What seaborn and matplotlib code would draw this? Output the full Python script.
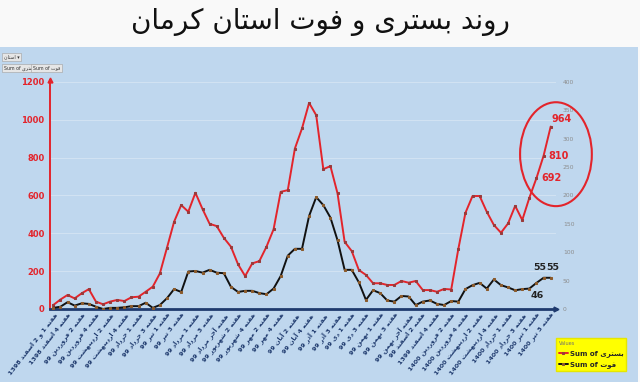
import numpy as np
import pandas as pd
import matplotlib
matplotlib.use("Agg")
import matplotlib.pyplot as plt
import seaborn as sns
from matplotlib.patches import Rectangle, Ellipse

# ---------------- data ----------------
title = "روند بستری و فوت استان کرمان"
series_hosp_name = "بستری"
series_death_name = "فوت"

hosp = [21, 50, 74, 56, 83, 105, 39, 25, 39, 48, 42, 62, 65, 91, 118, 188, 324, 461, 549, 514,
        614, 528, 450, 438, 376, 329, 236, 174, 241, 253, 329, 421, 619, 628, 848, 954, 1089, 1024,
        739, 755, 611, 355, 306, 206, 180, 136, 136, 127, 127, 148, 139, 148, 100, 100, 91, 106,
        103, 317, 508, 597, 597, 514, 444, 403, 452, 545, 470, 588, 692, 810, 964]

deaths = [2, 4, 12, 6, 10, 9, 4, 0, 2, 2, 3, 5, 5, 11, 2, 7, 19, 35, 30, 66, 67, 64, 69,
          64, 63, 39, 30, 32, 32, 28, 26, 36, 58, 94, 106, 106, 164, 197, 183, 161, 121, 69, 69,
          47, 16, 33, 28, 15, 13, 23, 22, 7, 13, 15, 9, 7, 14, 13, 35, 42, 46, 36, 52, 42, 38,
          33, 35, 36, 46, 55, 55]

tick_labels = [
    "هفته 1 و 2 اسفند 1398", "هفته 4 اسفند 1398", "هفته 2 فروردین 99", "هفته 4 فروردین 99",
    "هفته 2 اردیبهشت 99", "هفته 4 اردیبهشت 99", "هفته 1 خرداد 99", "هفته 3 خرداد 99",
    "هفته 1 تیر 99", "هفته 3 تیر 99", "هفته 1 مرداد 99", "هفته 3 مرداد 99",
    "هفته آخر مرداد 99", "هفته 2 شهریور 99", "هفته 4 شهریور 99", "هفته 2 مهر 99",
    "هفته 4 مهر 99", "هفته 2 آبان 99", "هفته 4 آبان 99", "هفته 1 آذر 99",
    "هفته 3 آذر 99", "هفته 1 دی 99", "هفته 3 دی 99", "هفته 1 بهمن 99",
    "هفته 3 بهمن 99", "هفته آخر بهمن 99", "هفته 2 اسفند 99", "هفته 4 اسفند 1399",
    "هفته 2 فروردین 1400", "هفته 4 فروردین 1400", "هفته 2 اردیبهشت 1400", "هفته 4 اردیبهشت 1400",
    "هفته 1 خرداد 1400", "هفته 3 خرداد 1400", "هفته 1 تیر 1400", "هفته 3 تیر 1400",
]

left_ticks = [0, 200, 400, 600, 800, 1000, 1200]
right_ticks = [0, 50, 100, 150, 200, 250, 300, 350, 400]
hosp_labelled = [68, 69, 70]
death_labelled = [68, 69, 70]

# ---------------- simple Persian shaping (presentation forms) ----------------
FORMS = {
    'ا': ('\uFE8D', '\uFE8E', None, None),
    'آ': ('\uFE81', '\uFE82', None, None),
    'ب': ('\uFE8F', '\uFE90', '\uFE91', '\uFE92'),
    'ت': ('\uFE95', '\uFE96', '\uFE97', '\uFE98'),
    'خ': ('\uFEA5', '\uFEA6', '\uFEA7', '\uFEA8'),
    'د': ('\uFEA9', '\uFEAA', None, None),
    'ذ': ('\uFEAB', '\uFEAC', None, None),
    'ر': ('\uFEAD', '\uFEAE', None, None),
    'ز': ('\uFEAF', '\uFEB0', None, None),
    'س': ('\uFEB1', '\uFEB2', '\uFEB3', '\uFEB4'),
    'ش': ('\uFEB5', '\uFEB6', '\uFEB7', '\uFEB8'),
    'ف': ('\uFED1', '\uFED2', '\uFED3', '\uFED4'),
    'ک': ('\uFB8E', '\uFB8F', '\uFB90', '\uFB91'),
    'م': ('\uFEE1', '\uFEE2', '\uFEE3', '\uFEE4'),
    'ن': ('\uFEE5', '\uFEE6', '\uFEE7', '\uFEE8'),
    'ه': ('\uFEE9', '\uFEEA', '\uFEEB', '\uFEEC'),
    'و': ('\uFEED', '\uFEEE', None, None),
    'ی': ('\uFBFC', '\uFBFD', '\uFBFE', '\uFBFF'),
}


def shape_word(w):
    out = []
    n = len(w)
    for i, c in enumerate(w):
        if c not in FORMS:
            out.append(c)
            continue
        iso, fin, ini, med = FORMS[c]
        prev = w[i - 1] if i > 0 else None
        nxt = w[i + 1] if i < n - 1 else None
        jp = prev is not None and prev in FORMS and FORMS[prev][2] is not None
        jn = nxt is not None and nxt in FORMS and ini is not None
        if jp and jn:
            out.append(med)
        elif jp:
            out.append(fin)
        elif jn:
            out.append(ini)
        else:
            out.append(iso)
    return ''.join(reversed(out))


def fa(s):
    toks = s.split(' ')
    res = []
    for t in toks:
        if any(ch in FORMS for ch in t):
            res.append(shape_word(t))
        else:
            res.append(t)
    return ' '.join(reversed(res))


# ---------------- style ----------------
sns.set_theme(style="white")
plt.rcParams['font.family'] = ['DejaVu Sans']

RED = "#E3242B"
NAVY = "#1F3A6E"
BG = "#BFD7EE"
GRID = "#D2E3F3"

W, H = 640, 382
fig = plt.figure(figsize=(W / 100, H / 100), dpi=100)
fig.patch.set_facecolor("#F9F9F9")
fig.patches.append(Rectangle((0, 0), 638 / W, 335 / H, transform=fig.transFigure,
                             facecolor=BG, edgecolor="none", zorder=-5))

ax = fig.add_axes([50 / W, 1 - 309 / H, (556 - 50) / W, (309 - 80) / H])
ax.set_facecolor(BG)
ax2 = ax.twinx()

df = pd.DataFrame({"week": np.arange(len(hosp)), "hosp": hosp, "deaths": deaths})

sns.lineplot(data=df, x="week", y="hosp", ax=ax, color=RED, lw=1.4, marker="s",
             markersize=1.8, markerfacecolor="#9A3A3A", markeredgecolor="#9A3A3A",
             label="Sum of " + shape_word(series_hosp_name), zorder=3)
sns.lineplot(data=df, x="week", y="deaths", ax=ax2, color="#111111", lw=1.4, marker="s",
             markersize=1.8, markerfacecolor="#8B5A2B", markeredgecolor="#8B5A2B",
             label="Sum of " + shape_word(series_death_name), zorder=3)

ax.set_xlim(-0.464, 70.746)
ax.set_ylim(0, 1210)
ax2.set_ylim(0, 1210 / 3)

# left axis
ax.set_yticks(left_ticks)
ax.set_yticklabels([str(v) for v in left_ticks], color=RED, fontsize=6, fontweight="bold")
ax.tick_params(axis="y", length=0, pad=4)
ax.yaxis.grid(True, color=GRID, lw=0.7)
ax.xaxis.grid(False)
ax.set_axisbelow(True)

# right axis
ax2.set_yticks(right_ticks)
ax2.set_yticklabels([str(v) for v in right_ticks], color="#8C8C8C", fontsize=4.3)
ax2.tick_params(axis="y", length=0, pad=5)
ax2.grid(False)

# x axis
ax.set_xticks(np.arange(0, len(hosp), 2))
ax.set_xticklabels([fa(t) for t in tick_labels], rotation=52, ha="right", va="top",
                   rotation_mode="anchor", fontsize=4.6, fontweight="bold", color=NAVY)
ax.tick_params(axis="x", length=0, pad=2)
ax.set_xlabel("")
ax.set_ylabel("")
ax2.set_ylabel("")

for a in (ax, ax2):
    for s in ("top", "right"):
        a.spines[s].set_visible(False)
ax2.spines["left"].set_visible(False)
ax2.spines["bottom"].set_visible(False)
ax.spines["left"].set_color(RED)
ax.spines["left"].set_linewidth(1.4)
ax.spines["bottom"].set_color(NAVY)
ax.spines["bottom"].set_linewidth(2)
ax.plot(0, 1.0, marker="^", color=RED, ms=3.5, transform=ax.transAxes, clip_on=False)
ax.plot(1.0, 0, marker=">", color=NAVY, ms=3.5, transform=ax.transAxes, clip_on=False)

# data labels
hosp_offsets = {68: (3.6, 0), 69: (3.4, 0), 70: (0.7, 5.3)}
for i in hosp_labelled:
    ax.annotate(str(hosp[i]), (i, hosp[i]), xytext=hosp_offsets[i], textcoords="offset points",
                ha="left", va="center", color=RED, fontsize=7, fontweight="bold")
death_offsets = {68: (0.5, -5.8, "top"), 69: (-2.8, 4.2, "bottom"), 70: (1.6, 4.2, "bottom")}
for i in death_labelled:
    dx, dy, va = death_offsets[i]
    ax2.annotate(str(deaths[i]), (i, deaths[i]), xytext=(dx, dy), textcoords="offset points",
                 ha="center", va=va, color="#222222", fontsize=6.8, fontweight="bold")

# highlight ellipse around the last weeks
ax2.add_patch(Ellipse((70.74, 818 / 3), width=10.1, height=549 / 3, fill=False,
                      edgecolor=RED, lw=1.5, clip_on=False, zorder=4))

# legend
h1, l1 = ax.get_legend_handles_labels()
h2, l2 = ax2.get_legend_handles_labels()
ax.get_legend().remove()
ax2.get_legend().remove()
leg = fig.legend(h1 + h2, l1 + l2, loc="upper left", bbox_to_anchor=(553 / W, 1 - 335 / H),
                 title="Values", title_fontsize=3.6, fontsize=5.0, facecolor="#FFFF00",
                 edgecolor="#E6E600", framealpha=1, fancybox=False, handlelength=1.3,
                 handletextpad=0.3, borderpad=0.35, labelspacing=0.6)
leg._legend_box.align = "left"
leg.get_title().set_color("#707070")
for t in leg.get_texts():
    t.set_fontweight("bold")

# title
fig.text(0.5, 1 - 22 / H, fa(title), ha="center", va="center", fontsize=20, color="#111111")

# pivot buttons
btn = dict(boxstyle="square,pad=0.35", fc="#E6E6E6", ec="#A0A0A0", lw=0.4)
fig.text(4 / W, 1 - 57 / H, fa("استان") + " ▾", fontsize=3.4, color="#333333", va="center", bbox=btn)
fig.text(4 / W, 1 - 68 / H, "Sum of " + shape_word("بستری"), fontsize=3.4, color="#333333",
         va="center", bbox=btn)
fig.text(33 / W, 1 - 68 / H, "Sum of " + shape_word("فوت"), fontsize=3.4, color="#333333",
         va="center", bbox=btn)

fig.savefig("out.png", dpi=100, facecolor=fig.get_facecolor())
